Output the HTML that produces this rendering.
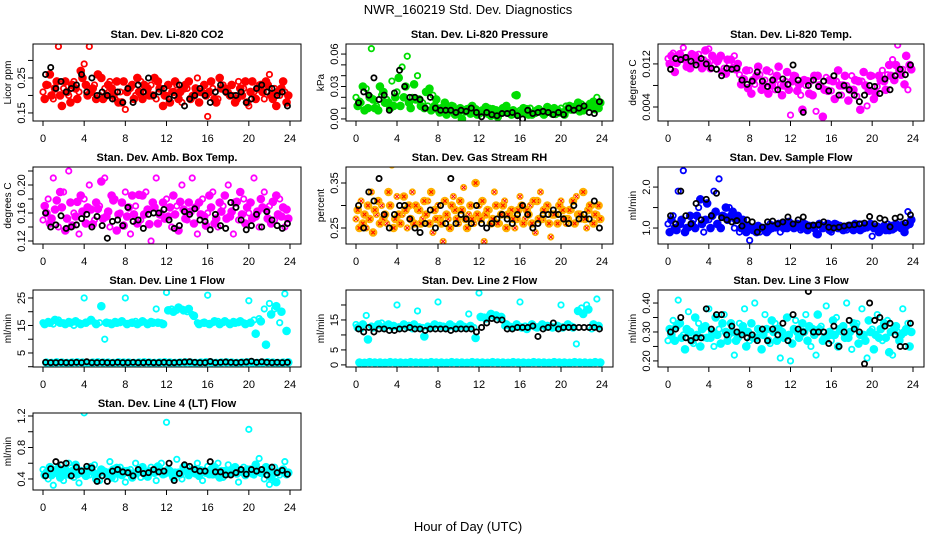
<!DOCTYPE html>
<html><head><meta charset="utf-8"><style>
body{margin:0;background:#fff;}
svg{display:block;font-family:"Liberation Sans",Arial,sans-serif;}
</style></head><body>
<svg id="chart" width="936" height="540" viewBox="0 0 936 540">
<rect width="936" height="540" fill="#fff"/>
<text x="468" y="14" font-size="13" text-anchor="middle">NWR_160219  Std. Dev. Diagnostics</text>
<text x="468" y="531" font-size="13" text-anchor="middle">Hour of Day (UTC)</text>
</svg>
<script>
const xTicks=[0,4,8,12,16,20,24];
// CO2
const co2A=[0.21,0.23,0.19,0.34,0.22,0.20,0.24,0.21,0.29,0.34,0.23,0.20,0.22,0.24,0.19,0.21,0.16,0.22,0.20,0.24,0.21,0.23,0.19,0.22,0.20,0.21,0.23,0.18,0.22,0.20,0.25,0.21,0.14,0.22,0.19,0.23,0.21,0.20,0.24,0.22,0.17,0.21,0.23,0.19,0.26,0.22,0.20,0.21];
const co2B=[0.19,0.26,0.22,0.20,0.24,0.18,0.22,0.27,0.23,0.21,0.19,0.25,0.20,0.22,0.24,0.18,0.21,0.23,0.25,0.19,0.22,0.20,0.24,0.17,0.23,0.21,0.19,0.22,0.24,0.20,0.18,0.23,0.21,0.19,0.25,0.22,0.20,0.18,0.22,0.24,0.21,0.19,0.23,0.24,0.20,0.17,0.22,0.18];
const co2C=[0.23,0.20,0.24,0.17,0.21,0.23,0.19,0.25,0.20,0.22,0.26,0.19,0.23,0.20,0.18,0.24,0.22,0.19,0.21,0.23,0.20,0.25,0.22,0.20,0.18,0.24,0.21,0.23,0.19,0.22,0.21,0.20,0.24,0.18,0.22,0.21,0.23,0.19,0.20,0.18,0.24,0.22,0.21,0.23,0.19,0.21,0.24,0.20];
const co2K=[0.26,0.28,0.22,0.24,0.21,0.22,0.23,0.26,0.21,0.25,0.20,0.21,0.20,0.19,0.21,0.18,0.22,0.18,0.23,0.21,0.25,0.20,0.21,0.22,0.19,0.20,0.23,0.17,0.19,0.20,0.22,0.20,0.18,0.21,0.23,0.21,0.20,0.20,0.21,0.18,0.19,0.22,0.23,0.21,0.22,0.20,0.21,0.17];
// Pressure
const prA=[0.020,0.015,0.028,0.065,0.012,0.022,0.018,0.035,0.025,0.048,0.058,0.020,0.040,0.015,0.012,0.022,0.008,0.010,0.006,0.012,0.005,0.008,0.010,0.006,0.004,0.008,0.010,0.006,0.005,0.009,0.007,0.022,0.008,0.006,0.010,0.005,0.008,0.006,0.007,0.004,0.010,0.012,0.008,0.012,0.014,0.010,0.012,0.020];
const prB=[0.012,0.030,0.010,0.018,0.008,0.025,0.015,0.012,0.038,0.020,0.015,0.032,0.018,0.010,0.028,0.012,0.006,0.015,0.009,0.004,0.010,0.007,0.005,0.009,0.006,0.011,0.003,0.008,0.007,0.012,0.004,0.022,0.006,0.009,0.004,0.008,0.006,0.011,0.005,0.008,0.006,0.009,0.011,0.015,0.008,0.012,0.016,0.010];
const prC=[0.016,0.008,0.020,0.010,0.030,0.015,0.010,0.020,0.012,0.030,0.010,0.018,0.012,0.025,0.008,0.018,0.010,0.004,0.012,0.006,0.000,0.009,0.012,0.004,0.008,0.005,0.009,0.002,0.010,0.006,0.008,0.005,0.010,0.004,0.006,0.009,0.004,0.007,0.010,0.006,0.004,0.012,0.009,0.007,0.011,0.014,0.009,0.015];
const prK=[0.015,0.025,0.022,0.038,0.018,0.022,0.008,0.024,0.045,0.030,0.020,0.020,0.018,0.010,0.020,0.010,0.008,0.008,0.008,0.006,0.008,0.007,0.010,0.006,0.002,0.006,0.004,0.003,0.005,0.005,0.006,0.003,0.000,0.008,0.005,0.006,0.007,0.006,0.004,0.006,0.004,0.010,0.008,0.010,0.012,0.006,0.005,0.016];
// Li-820 Temp
const tmA=[0.0130,0.0140,0.0125,0.0150,0.0132,0.0122,0.0138,0.0128,0.0148,0.0118,0.0128,0.0112,0.0120,0.0135,0.0100,0.0092,0.0108,0.0082,0.0100,0.0090,0.0105,0.0072,0.0082,0.0088,0.0025,0.0098,0.0062,0.0080,0.0088,0.0032,0.0078,0.0095,0.0070,0.0088,0.0062,0.0080,0.0098,0.0060,0.0088,0.0042,0.0098,0.0078,0.0108,0.0100,0.0128,0.0155,0.0110,0.0072];
const tmB=[0.0120,0.0105,0.0138,0.0128,0.0112,0.0135,0.0120,0.0145,0.0112,0.0128,0.0135,0.0102,0.0128,0.0110,0.0082,0.0108,0.0065,0.0098,0.0072,0.0108,0.0080,0.0098,0.0062,0.0105,0.0088,0.0070,0.0035,0.0088,0.0062,0.0098,0.0022,0.0070,0.0088,0.0108,0.0080,0.0052,0.0072,0.0088,0.0105,0.0070,0.0055,0.0098,0.0088,0.0118,0.0090,0.0108,0.0082,0.0118];
const tmC=[0.0135,0.0122,0.0130,0.0115,0.0138,0.0128,0.0112,0.0122,0.0135,0.0125,0.0105,0.0128,0.0112,0.0120,0.0092,0.0075,0.0090,0.0115,0.0082,0.0065,0.0090,0.0115,0.0080,0.0072,0.0098,0.0082,0.0090,0.0065,0.0098,0.0080,0.0072,0.0090,0.0055,0.0080,0.0098,0.0072,0.0090,0.0035,0.0080,0.0098,0.0065,0.0090,0.0072,0.0098,0.0118,0.0100,0.0135,0.0110];
const tmK=[0.0110,0.0130,0.0128,0.0132,0.0125,0.0118,0.0130,0.0120,0.0112,0.0110,0.0098,0.0112,0.0110,0.0112,0.0090,0.0082,0.0088,0.0105,0.0088,0.0078,0.0090,0.0072,0.0092,0.0082,0.0118,0.0090,0.0030,0.0080,0.0090,0.0078,0.0088,0.0070,0.0098,0.0062,0.0080,0.0072,0.0062,0.0050,0.0062,0.0080,0.0078,0.0065,0.0092,0.0072,0.0098,0.0110,0.0100,0.0118];
// Amb box temp
const abA=[0.15,0.18,0.21,0.14,0.19,0.22,0.16,0.13,0.18,0.20,0.15,0.17,0.21,0.14,0.18,0.16,0.19,0.13,0.17,0.15,0.19,0.12,0.21,0.16,0.18,0.14,0.17,0.20,0.15,0.21,0.13,0.18,0.16,0.19,0.14,0.17,0.20,0.13,0.15,0.18,0.16,0.21,0.14,0.19,0.17,0.15,0.18,0.14];
const abB=[0.17,0.145,0.165,0.19,0.135,0.175,0.155,0.185,0.145,0.165,0.175,0.205,0.155,0.185,0.135,0.175,0.155,0.185,0.145,0.185,0.165,0.175,0.145,0.175,0.155,0.185,0.135,0.165,0.175,0.145,0.175,0.155,0.185,0.145,0.175,0.185,0.155,0.175,0.19,0.145,0.175,0.155,0.18,0.165,0.145,0.185,0.155,0.165];
const abC=[0.16,0.152,0.178,0.168,0.152,0.142,0.176,0.162,0.168,0.144,0.166,0.152,0.162,0.178,0.158,0.142,0.168,0.158,0.186,0.158,0.144,0.168,0.158,0.152,0.168,0.158,0.176,0.152,0.162,0.168,0.158,0.142,0.168,0.152,0.162,0.152,0.162,0.176,0.158,0.168,0.152,0.162,0.168,0.152,0.176,0.158,0.168,0.152];
const abK=[0.16,0.14,0.143,0.156,0.138,0.14,0.143,0.152,0.158,0.14,0.155,0.142,0.124,0.148,0.15,0.142,0.168,0.148,0.15,0.138,0.158,0.16,0.16,0.165,0.15,0.138,0.142,0.162,0.158,0.166,0.15,0.148,0.136,0.158,0.142,0.138,0.175,0.168,0.15,0.136,0.142,0.158,0.14,0.162,0.15,0.142,0.138,0.145];
// Gas stream RH
const rhA=[0.27,0.31,0.25,0.33,0.28,0.30,0.26,0.39,0.32,0.28,0.25,0.33,0.29,0.27,0.31,0.24,0.30,0.22,0.27,0.32,0.26,0.34,0.28,0.26,0.30,0.22,0.29,0.33,0.26,0.31,0.28,0.25,0.32,0.27,0.30,0.24,0.33,0.29,0.23,0.28,0.31,0.26,0.29,0.32,0.27,0.25,0.30,0.28];
const rhB=[0.29,0.26,0.30,0.24,0.31,0.27,0.33,0.25,0.28,0.32,0.30,0.26,0.29,0.31,0.26,0.29,0.27,0.31,0.25,0.29,0.31,0.27,0.30,0.35,0.27,0.28,0.26,0.30,0.28,0.25,0.29,0.27,0.30,0.29,0.26,0.31,0.27,0.30,0.28,0.26,0.29,0.27,0.31,0.28,0.33,0.29,0.26,0.30];
const rhC=[0.25,0.28,0.27,0.29,0.26,0.28,0.30,0.27,0.26,0.29,0.27,0.30,0.26,0.28,0.33,0.27,0.26,0.28,0.30,0.27,0.29,0.25,0.27,0.28,0.31,0.29,0.27,0.26,0.30,0.28,0.27,0.29,0.26,0.28,0.31,0.27,0.29,0.26,0.28,0.30,0.27,0.29,0.26,0.28,0.27,0.30,0.28,0.27];
const rhK=[0.30,0.25,0.33,0.31,0.36,0.28,0.25,0.28,0.30,0.30,0.27,0.25,0.24,0.26,0.29,0.25,0.30,0.26,0.36,0.26,0.28,0.27,0.26,0.30,0.26,0.25,0.26,0.27,0.28,0.27,0.26,0.28,0.30,0.28,0.25,0.26,0.28,0.28,0.29,0.28,0.27,0.26,0.30,0.27,0.28,0.27,0.31,0.25];
// Sample flow
const sfA=[1.1,1.3,1.9,2.4,1.0,1.2,1.5,0.9,1.2,1.9,2.2,1.3,1.5,1.0,0.9,1.0,0.7,0.95,0.9,1.0,1.1,1.0,0.9,1.05,1.1,1.0,0.95,1.1,1.0,0.85,1.05,1.0,0.9,1.1,1.0,0.95,1.05,1.0,1.1,1.0,0.8,1.05,1.0,1.1,0.95,1.05,1.1,1.4];
const sfB=[0.9,1.0,1.1,0.9,1.3,1.0,1.7,1.2,1.0,1.4,1.0,1.5,1.3,1.2,1.0,0.9,1.0,0.9,1.0,0.9,1.0,1.05,1.1,1.0,1.05,1.1,1.0,0.95,1.05,0.85,1.0,1.1,1.05,1.0,0.95,1.05,0.95,1.0,1.0,1.05,1.0,0.9,1.05,0.95,1.0,1.05,0.9,1.1];
const sfC=[1.2,0.95,1.2,1.0,1.1,1.3,1.1,1.6,1.3,1.1,1.3,1.2,1.4,1.3,1.2,1.05,0.95,1.05,1.0,0.95,1.05,1.1,1.0,1.15,1.0,1.05,1.1,1.05,1.0,1.1,1.05,0.95,1.1,1.05,1.0,1.05,1.1,0.95,1.05,1.1,1.0,1.0,0.95,1.05,1.1,1.0,1.05,1.2];
const sfK=[1.3,1.1,1.9,1.3,1.1,1.6,1.2,1.7,1.3,1.85,1.25,1.2,1.15,1.18,1.05,1.2,1.15,0.9,1.02,1.15,1.17,1.1,1.15,1.27,1.1,1.2,1.27,1.05,1.07,1.08,1.15,1.02,1.0,1.02,1.05,1.07,1.08,1.1,1.12,1.28,1.1,1.24,1.2,1.03,1.24,1.27,1.13,1.32];
// Line 1
const l1A=[16,16.5,15.5,17,16,16.5,15,16,25,16.5,16,16,10,16,16.5,16,25,16,16.5,16,16,16.5,21,16,27,21,20.5,21,20,19,16,16,26,16,16.5,16,16,16.5,16,16,24,17,17.5,21,23,21,16,26.5];
const l1B=[15.5,16,17,16,15.5,16,16.5,15.5,16,17,15.5,22,16,15.5,16,16.5,15.5,16,15.5,16.5,15.5,16,16,15.5,20.5,20,21.5,20.5,21,18.5,15.5,16,15.5,16.5,15.5,16.5,15.5,16,16.5,15.5,16,12,16.5,8,19,22,20,13];
const l1C=[1.5,1.4,1.6,1.5,1.4,1.5,1.6,1.5,1.4,1.5,1.6,1.5,1.5,1.4,1.6,1.5,1.5,1.4,1.5,1.6,1.5,1.4,1.5,1.6,1.5,1.4,1.5,1.6,1.5,1.4,1.5,1.6,1.5,1.4,1.5,1.6,1.5,1.4,1.5,1.6,1.5,1.4,1.5,1.6,1.5,1.4,1.5,1.6];
const l1K=[1.6,1.5,1.5,1.6,1.5,1.5,1.6,1.5,1.8,1.5,1.5,1.6,1.5,1.5,1.6,1.5,1.5,1.6,1.5,1.5,1.6,1.5,1.5,1.6,1.5,1.5,1.6,1.7,1.8,1.6,1.5,1.5,1.9,1.5,1.6,1.7,1.6,1.5,1.6,1.7,2.0,1.6,1.8,1.6,1.5,1.6,1.5,1.6];
// Line 2
const l2A=[13.5,12,16.5,13,13,14,13,12.5,20,13,12.5,12,18,12.5,13,12.5,21,13,12.5,13,12.5,13,17,12.5,24,16,16.5,16,15.5,13,13,12.5,21,13,13,12.5,13,12.5,13,12.5,20,13,13,7,19,20,12,22];
const l2B=[12.5,13.5,8.5,12.5,13.5,12.5,13.5,13,12.5,13.5,13,13.5,12.5,9.5,12.5,13.5,13,12.5,13.5,12.5,13.5,12.5,13,9,16,15.5,17,16.5,16,13.5,12.5,13.5,12.5,12,13.5,12.5,13.5,13,12.5,13,12.5,13.5,12.5,18,17,18.5,13.5,13];
const l2C=[0.8,0.7,0.9,0.8,0.8,0.7,0.9,0.8,0.8,0.7,0.9,0.8,0.8,0.7,0.9,0.8,0.8,0.7,0.9,0.8,0.8,0.7,0.9,0.8,0.8,0.7,0.9,0.8,0.8,0.7,0.9,0.8,0.8,0.7,0.9,0.8,0.8,0.7,0.9,0.8,0.8,0.7,0.9,0.8,0.8,0.7,0.9,0.8];
const l2K=[12,11,12.5,11,12,12,11.5,11.5,12,12,12.5,12,12,11.5,12,12,12,12,11.5,12,12,12,12,11,12.5,14,15.5,15,15,12,12,12.5,12.5,12.5,13,9.5,12,12.5,14,12,12.5,12.5,12.5,12.5,12.5,12.5,12.5,12];
// Line 3
const l3A=[0.27,0.34,0.41,0.29,0.37,0.26,0.33,0.28,0.38,0.25,0.31,0.36,0.29,0.22,0.33,0.38,0.27,0.40,0.30,0.36,0.26,0.33,0.21,0.28,0.20,0.34,0.29,0.36,0.25,0.22,0.32,0.39,0.27,0.35,0.30,0.40,0.24,0.33,0.38,0.21,0.31,0.36,0.27,0.34,0.22,0.30,0.38,0.33];
const l3B=[0.31,0.27,0.33,0.24,0.30,0.35,0.25,0.32,0.28,0.35,0.26,0.30,0.33,0.27,0.30,0.25,0.33,0.28,0.24,0.31,0.34,0.27,0.30,0.35,0.26,0.30,0.33,0.27,0.31,0.36,0.27,0.29,0.34,0.25,0.32,0.28,0.33,0.26,0.29,0.34,0.24,0.28,0.33,0.23,0.31,0.27,0.30,0.25];
const l3C=[0.29,0.32,0.28,0.31,0.27,0.29,0.31,0.28,0.30,0.29,0.33,0.27,0.30,0.28,0.32,0.30,0.28,0.31,0.29,0.27,0.30,0.31,0.28,0.29,0.31,0.28,0.30,0.32,0.29,0.31,0.28,0.30,0.29,0.31,0.28,0.30,0.32,0.29,0.27,0.30,0.29,0.31,0.28,0.30,0.32,0.29,0.31,0.30];
const l3K=[0.30,0.31,0.35,0.28,0.27,0.28,0.28,0.38,0.31,0.36,0.36,0.29,0.32,0.30,0.29,0.28,0.29,0.27,0.31,0.27,0.31,0.29,0.33,0.27,0.36,0.31,0.30,0.44,0.30,0.30,0.30,0.26,0.32,0.25,0.30,0.34,0.31,0.30,0.19,0.40,0.34,0.35,0.32,0.33,0.29,0.25,0.25,0.33];
// Line 4
const l4A=[0.52,0.40,0.32,0.55,0.38,0.60,0.42,0.35,1.24,0.45,0.58,0.38,0.50,0.62,0.40,0.55,0.36,0.52,0.60,0.42,0.48,0.55,0.38,0.60,1.12,0.45,0.65,0.40,0.55,0.48,0.60,0.38,0.56,0.45,0.60,0.42,0.58,0.50,0.36,0.55,1.03,0.45,0.66,0.40,0.33,0.55,0.45,0.62];
const l4B=[0.45,0.55,0.48,0.42,0.52,0.45,0.58,0.50,0.44,0.55,0.40,0.52,0.46,0.42,0.54,0.45,0.50,0.42,0.48,0.55,0.43,0.50,0.56,0.46,0.52,0.42,0.48,0.55,0.45,0.52,0.44,0.50,0.46,0.55,0.42,0.50,0.47,0.55,0.50,0.45,0.52,0.58,0.48,0.55,0.42,0.36,0.50,0.46];
const l4C=[0.48,0.45,0.52,0.50,0.46,0.50,0.46,0.48,0.52,0.49,0.46,0.50,0.48,0.52,0.47,0.50,0.48,0.46,0.51,0.47,0.50,0.48,0.52,0.47,0.50,0.48,0.46,0.51,0.49,0.47,0.51,0.48,0.52,0.46,0.50,0.48,0.51,0.47,0.49,0.52,0.47,0.50,0.48,0.51,0.46,0.49,0.52,0.48];
const l4K=[0.44,0.53,0.62,0.58,0.60,0.44,0.55,0.50,0.56,0.54,0.37,0.44,0.37,0.50,0.52,0.49,0.48,0.44,0.52,0.47,0.48,0.52,0.49,0.50,0.60,0.38,0.47,0.58,0.56,0.52,0.50,0.50,0.62,0.49,0.49,0.45,0.45,0.48,0.52,0.46,0.52,0.50,0.52,0.45,0.55,0.48,0.51,0.46];

const colL=[33,346,658], colR=[301,613,924], rowT=[44,167,290,413], PH=77;
const panels=[
 {id:'co2',t:'Stan. Dev. Li-820 CO2',yl:'Licor ppm',r:0,c:0,y0:0.127,y1:0.347,ticks:[0.15,0.20,0.25,0.30],labs:['0.15','','0.25',''],col:'#ff0000',s:[co2A,co2B,co2C],k:co2K},
 {id:'pressure',t:'Stan. Dev. Li-820 Pressure',yl:'kPa',r:0,c:1,y0:-0.0019,y1:0.0693,ticks:[0,0.01,0.02,0.03,0.04,0.05,0.06],labs:['0.00','','','0.03','','','0.06'],col:'#00dd00',s:[prA,prB,prC],k:prK},
 {id:'li820-temp',t:'Stan. Dev. Li-820 Temp.',yl:'degrees C',r:0,c:2,y0:0.0014,y1:0.0157,ticks:[0.004,0.008,0.012],labs:['0.004','','0.012'],col:'#ff00ff',s:[tmA,tmB,tmC],k:tmK},
 {id:'amb-box-temp',t:'Stan. Dev. Amb. Box Temp.',yl:'degrees C',r:1,c:0,y0:0.1157,y1:0.2257,ticks:[0.12,0.14,0.16,0.18,0.20,0.22],labs:['0.12','','0.16','','0.20',''],col:'#ff00ff',s:[abA,abB,abC],k:abK},
 {id:'gas-stream-rh',t:'Stan. Dev. Gas Stream RH',yl:'percent',r:1,c:1,y0:0.2144,y1:0.3856,ticks:[0.25,0.30,0.35],labs:['0.25','','0.35'],col:'#ffb000',cross:true,s:[rhA,rhB,rhC],k:rhK},
 {id:'sample-flow',t:'Stan. Dev. Sample Flow',yl:'ml/min',r:1,c:2,y0:0.61,y1:2.49,ticks:[1.0,1.5,2.0],labs:['1.0','','2.0'],col:'#0000ff',s:[sfA,sfB,sfC],k:sfK},
 {id:'line1-flow',t:'Stan. Dev. Line 1 Flow',yl:'ml/min',r:2,c:0,y0:-0.1,y1:27.9,ticks:[0,5,10,15,20,25],labs:['','5','','15','','25'],col:'#00ffff',s:[l1A,l1B,l1C],k:l1K},
 {id:'line2-flow',t:'Stan. Dev. Line 2 Flow',yl:'ml/min',r:2,c:1,y0:-0.7,y1:25,ticks:[0,5,10,15,20],labs:['0','5','','15',''],col:'#00ffff',s:[l2A,l2B,l2C],k:l2K},
 {id:'line3-flow',t:'Stan. Dev. Line 3 Flow',yl:'ml/min',r:2,c:2,y0:0.179,y1:0.445,ticks:[0.20,0.25,0.30,0.35,0.40],labs:['0.20','','0.30','','0.40'],col:'#00ffff',s:[l3A,l3B,l3C],k:l3K},
 {id:'line4-flow',t:'Stan. Dev. Line 4 (LT) Flow',yl:'ml/min',r:3,c:0,y0:0.26,y1:1.238,ticks:[0.4,0.6,0.8,1.0,1.2],labs:['0.4','','0.8','','1.2'],col:'#00ffff',s:[l4A,l4B,l4C],k:l4K}
];
const NS='http://www.w3.org/2000/svg';
const svg=document.getElementById('chart');
function mk(tag,attrs,parent){const e=document.createElementNS(NS,tag);for(const a in attrs)e.setAttribute(a,attrs[a]);(parent||svg).appendChild(e);return e;}
panels.forEach(p=>{
 const L=colL[p.c],R=colR[p.c],T=rowT[p.r],B=T+PH;
 const xs=v=>L+10+(v/24)*(R-L-21);
 const ys=v=>B-(v-p.y0)/(p.y1-p.y0)*PH;
 const g=mk('g',{});
 
 
 const clip=mk('clipPath',{id:'clip-'+p.id},g);
 mk('rect',{x:L,y:T,width:R-L,height:PH},clip);
 const tt=mk('text',{x:(L+R)/2,y:T-6,'font-size':11,'font-weight':'bold','text-anchor':'middle'},g);
 tt.textContent=p.t;
 
 
 const yt=mk('text',{x:0,y:0,'font-size':10,'text-anchor':'middle',transform:`translate(${L-22},${(T+B)/2}) rotate(-90)`},g);
 yt.textContent=p.yl;
 
 
 mk('line',{x1:xs(0),x2:xs(24),y1:B,y2:B,stroke:'#000'},g);
 xTicks.forEach(v=>{
  mk('line',{x1:xs(v),x2:xs(v),y1:B,y2:B+5,stroke:'#000'},g);
  const tl=mk('text',{x:xs(v),y:B+21,'font-size':11,'text-anchor':'middle'},g);
  tl.textContent=v;
  
  
 });
 mk('line',{x1:L,x2:L,y1:ys(p.ticks[0]),y2:ys(p.ticks[p.ticks.length-1]),stroke:'#000'},g);
 p.ticks.forEach((v,i)=>{
  mk('line',{x1:L-5,x2:L,y1:ys(v),y2:ys(v),stroke:'#000'},g);
  if(p.labs[i]){
   const yl=mk('text',{x:0,y:0,'font-size':11,'text-anchor':'middle',transform:`translate(${L-8},${ys(v)}) rotate(-90)`},g);
   yl.textContent=p.labs[i];
   
   
  }
 });
 const pts=mk('g',{'clip-path':`url(#clip-${p.id})`},g);
 p.s.forEach((arr,si)=>{
  arr.forEach((v,i)=>{
   const cx=xs(i*0.5+si*0.167),cy=ys(v);
   const filled=si>0;
   const c=mk('circle',{cx:cx,cy:cy,r:filled?3.2:2.7,fill:filled?p.col:'none',stroke:p.col,'stroke-width':filled?2.2:1.8},pts);
   
   
   if(p.cross){mk('path',{d:`M${cx-1.8},${cy-1.8}L${cx+1.8},${cy+1.8}M${cx-1.8},${cy+1.8}L${cx+1.8},${cy-1.8}`,stroke:'#ff0000','stroke-width':1},pts);}
  });
 });
 p.k.forEach((v,i)=>{
  const c=mk('circle',{cx:xs(i*0.5+0.25),cy:ys(v),r:2.6,fill:'none',stroke:'#000','stroke-width':1.8},pts);
  
  
 });
 const box=mk('rect',{x:L,y:T,width:R-L,height:PH,fill:'none',stroke:'#000'},g);
 
 
});
</script>
</body></html>
